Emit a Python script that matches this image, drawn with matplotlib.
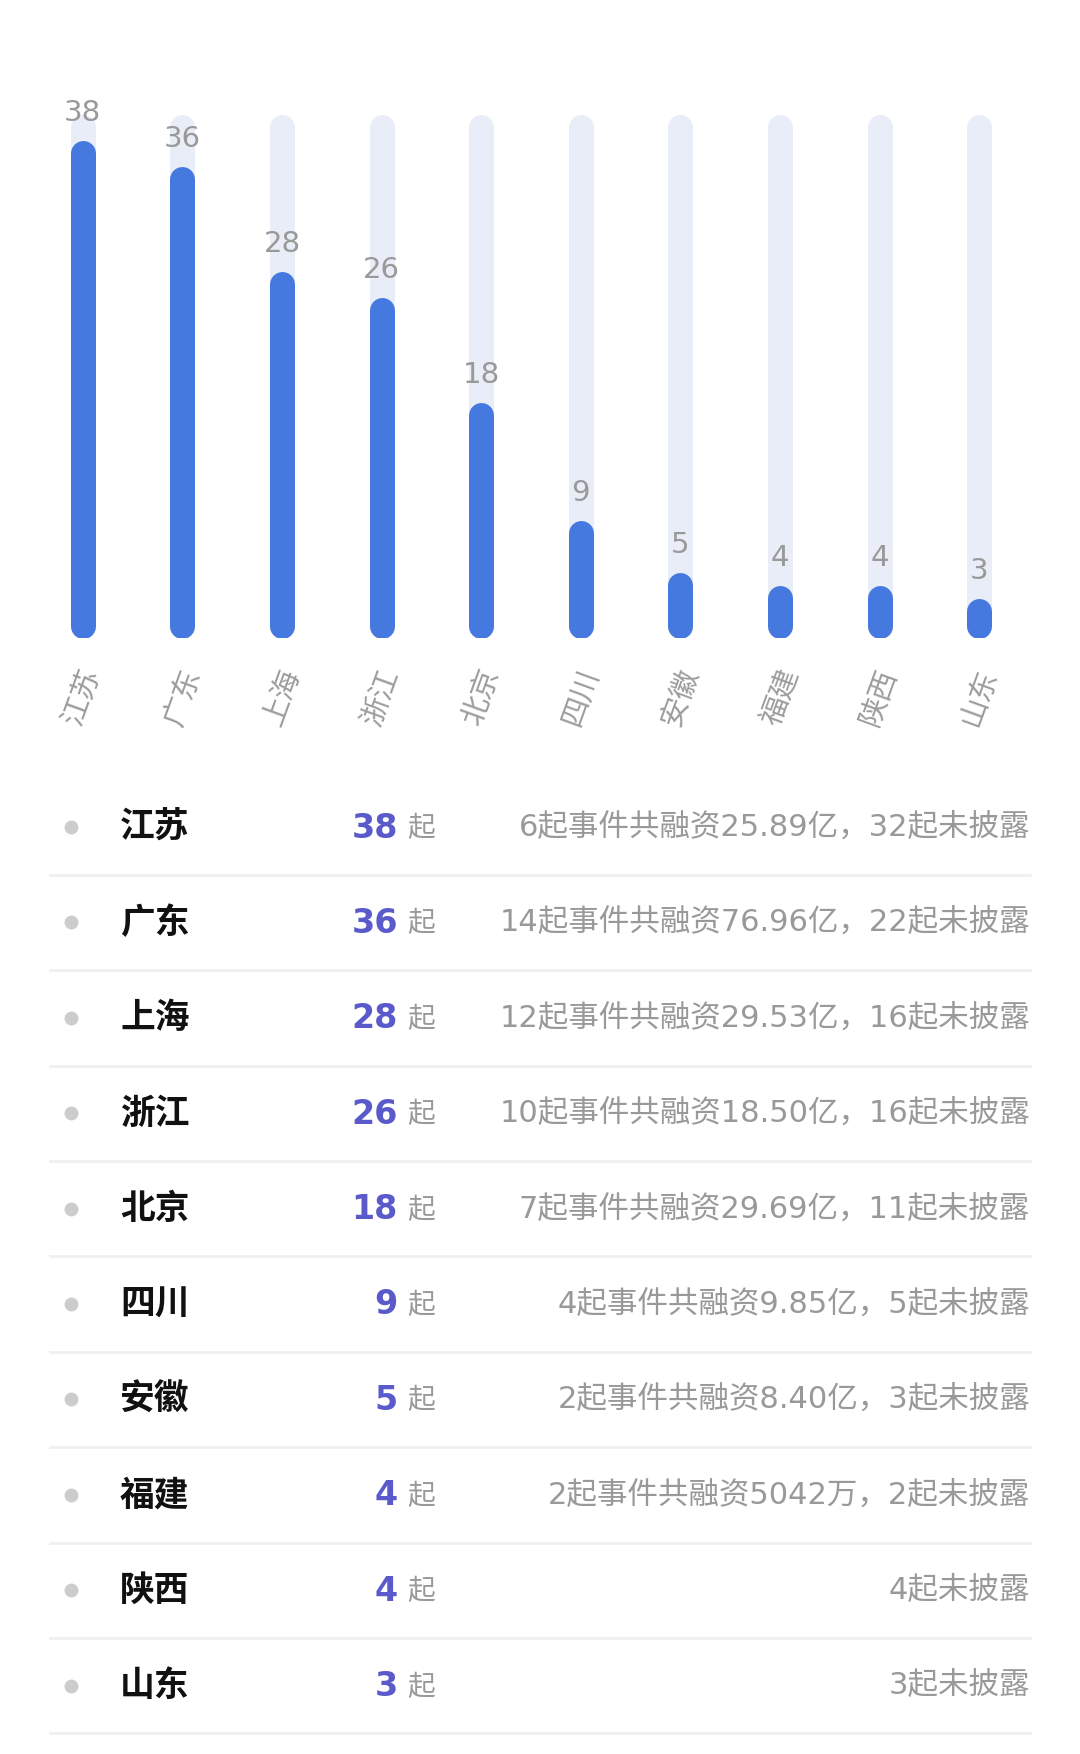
import matplotlib
matplotlib.use("Agg")
import matplotlib.pyplot as plt

plt.rcParams['font.family'] = ['Noto Sans CJK SC', 'DejaVu Sans']

provinces = ["江苏", "广东", "上海", "浙江", "北京", "四川", "安徽", "福建", "陕西", "山东"]
counts = [38, 36, 28, 26, 18, 9, 5, 4, 4, 3]
track_max = 40
details = [
    "6起事件共融资25.89亿，32起未披露",
    "14起事件共融资76.96亿，22起未披露",
    "12起事件共融资29.53亿，16起未披露",
    "10起事件共融资18.50亿，16起未披露",
    "7起事件共融资29.69亿，11起未披露",
    "4起事件共融资9.85亿，5起未披露",
    "2起事件共融资8.40亿，3起未披露",
    "2起事件共融资5042万，2起未披露",
    "4起未披露",
    "3起未披露",
]

W, H = 1080, 1754
DPI = 100
BLUE = "#4679e0"
TRACK = "#e9edf7"
GREY = "#999999"
NUM = "#5a5acb"

fig = plt.figure(figsize=(W / DPI, H / DPI), dpi=DPI)
fig.patch.set_facecolor("white")

# ---- bar chart (pixel placement of axes) ----
ax_left, ax_right = 33, 33 + 996
ax_top, ax_bot = 114, 638
ax = fig.add_axes([ax_left / W, 1 - ax_bot / H,
                   (ax_right - ax_left) / W, (ax_bot - ax_top) / H])
ax.set_xlim(-0.5, len(provinces) - 0.5)
ax.set_ylim(0, track_max)

bar_px = 25
lw = bar_px * 72 / DPI
cap = (bar_px / 2) / ((ax_bot - ax_top) / track_max)  # cap radius in data units

for i, v in enumerate(counts):
    ax.plot([i, i], [cap, track_max - cap], color=TRACK, lw=lw,
            solid_capstyle="round", zorder=1)
    ax.plot([i, i], [cap, v - cap], color=BLUE, lw=lw,
            solid_capstyle="round", zorder=2)
    ax.annotate(str(v), (i, v), xytext=(0, 14), textcoords="offset points",
                ha="center", va="baseline", fontsize=21, color=GREY,
                family=["DejaVu Sans"])

ax.set_xticks(range(len(provinces)))
ax.set_xticklabels(provinces, rotation=70, ha="center", va="top",
                   fontsize=21, color="#9c9c9c")
ax.tick_params(axis="x", length=0, pad=19)
ax.set_yticks([])
for s in ax.spines.values():
    s.set_visible(False)

# ---- table ----
tab = fig.add_axes([0, 0, 1, 1])
tab.set_xlim(0, W)
tab.set_ylim(H, 0)
tab.axis("off")

row0, row_h = 827, 95.4
for i, (p, c, d) in enumerate(zip(provinces, counts, details)):
    y = row0 + i * row_h
    tab.plot([70.5], [y], "o", ms=10, color="#cccccc", mec="none")
    tab.text(120, y, p, fontsize=25, fontweight="black", color="#111111",
             ha="left", va="center")
    tab.text(398, y + 1, str(c), fontsize=24, fontweight="bold", color=NUM,
             ha="right", va="center", family=["DejaVu Sans"])
    tab.text(407, y + 1, "起", fontsize=20, color=GREY, ha="left", va="center")
    tab.text(1030, y, d, fontsize=22, color=GREY, ha="right", va="center",
             family=["DejaVu Sans", "Noto Sans CJK KR"])
    tab.plot([50, 1030], [y + row_h / 2, y + row_h / 2], color="#f0f0f0", lw=2)

fig.savefig("out.png", dpi=DPI, facecolor="white")
